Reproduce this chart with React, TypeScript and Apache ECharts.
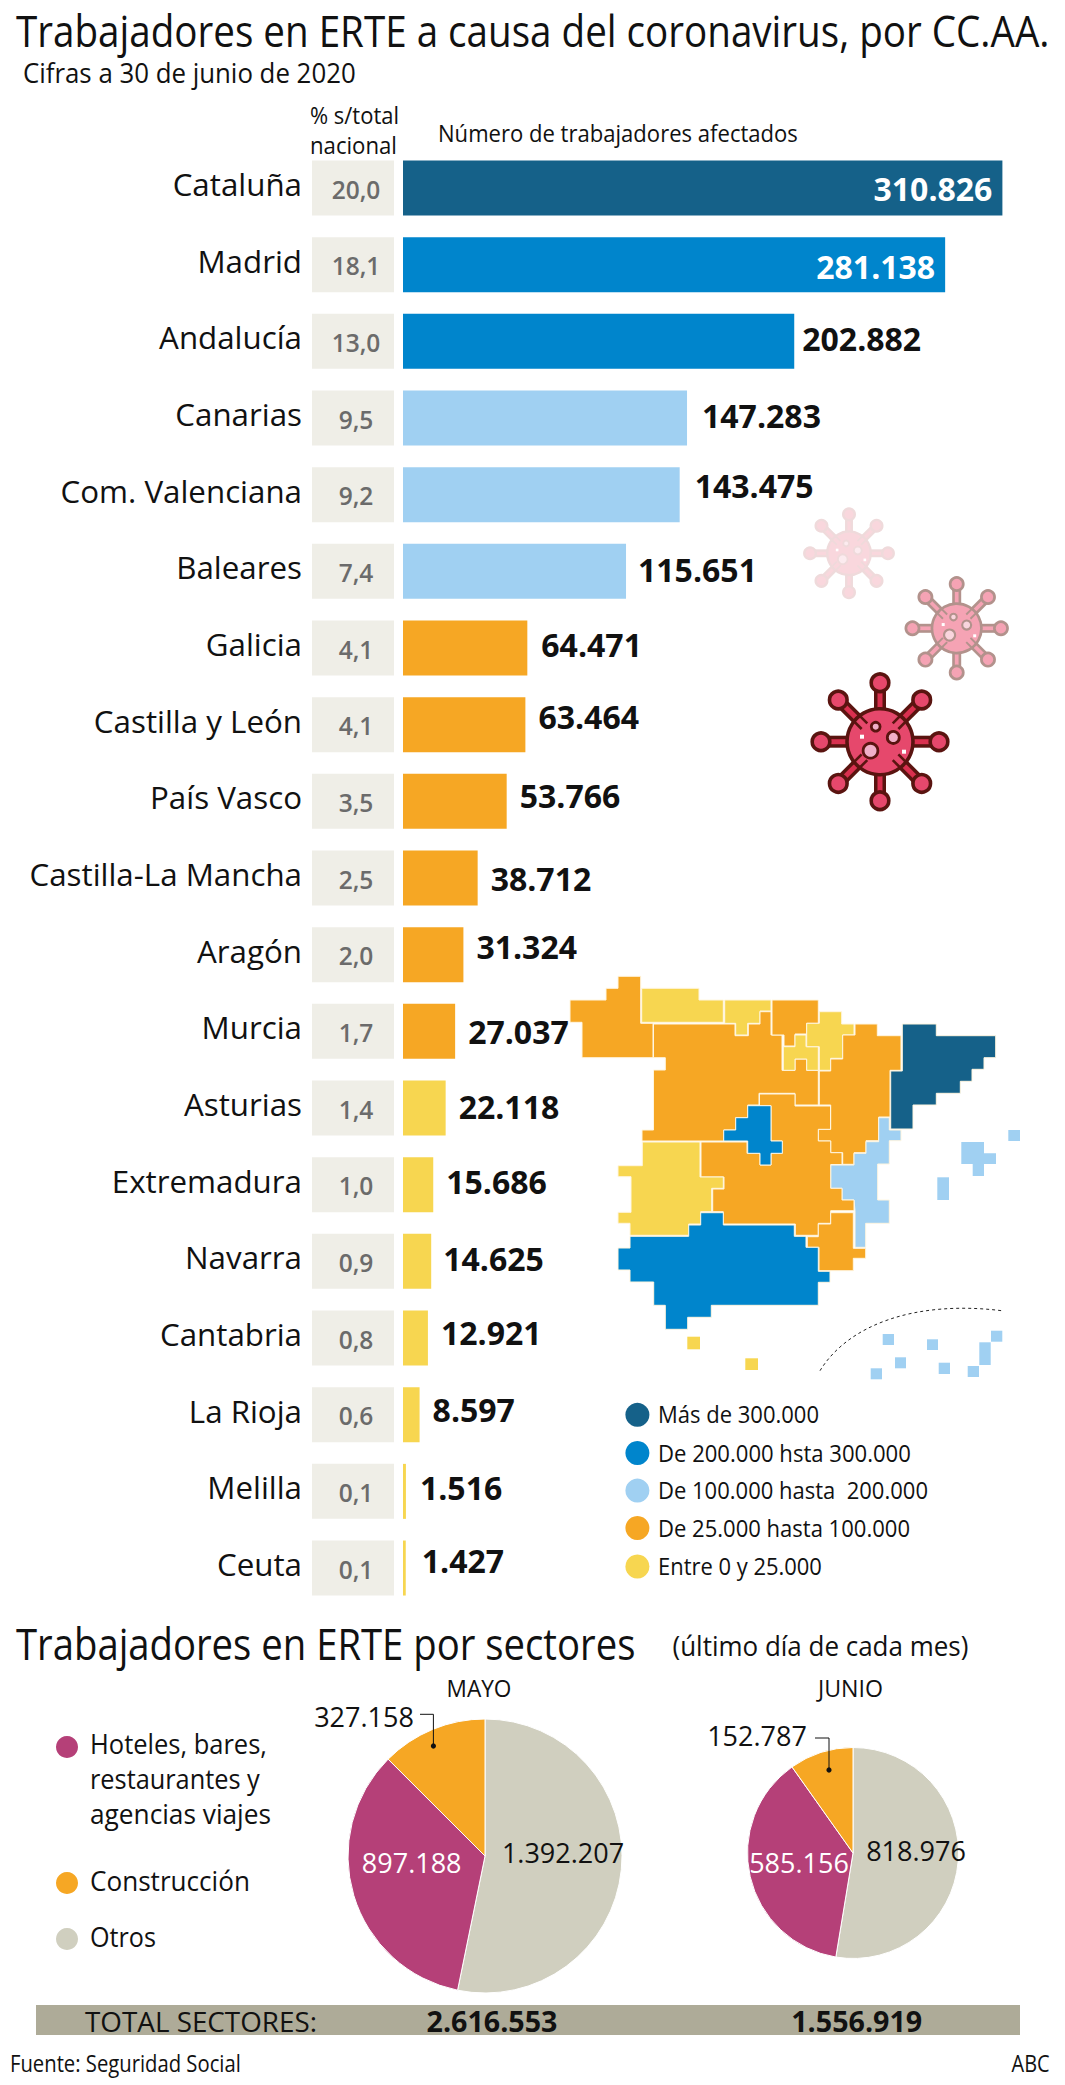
import React, { useEffect, useRef } from "react";
import * as echarts from "echarts";

// ---------- data ----------
const regions = ["Cataluña","Madrid","Andalucía","Canarias","Com. Valenciana","Baleares","Galicia","Castilla y León","País Vasco","Castilla-La Mancha","Aragón","Murcia","Asturias","Extremadura","Navarra","Cantabria","La Rioja","Melilla","Ceuta"];
const workers = [310826,281138,202882,147283,143475,115651,64471,63464,53766,38712,31324,27037,22118,15686,14625,12921,8597,1516,1427];
const shares = [20.0,18.1,13.0,9.5,9.2,7.4,4.1,4.1,3.5,2.5,2.0,1.7,1.4,1.0,0.9,0.8,0.6,0.1,0.1];
const legendLabels = ["Más de 300.000","De 200.000 hsta 300.000","De 100.000 hasta  200.000","De 25.000 hasta 100.000","Entre 0 y 25.000"];
const sectorNames = ["Otros","Hoteles, bares, restaurantes y agencias viajes","Construcción"];
const mayValues = [1392207,897188,327158];
const juneValues = [818976,585156,152787];
const totals = ["2.616.553","1.556.919"];

// ---------- style ----------
const FONT = "'Open Sans', sans-serif";
const DARK = "#156189", BLUE = "#0085CC", LIGHT = "#A0D0F2", ORANGE = "#F6A724", YELLOW = "#F7D650";
const bucketColors = [DARK, BLUE, LIGHT, ORANGE, YELLOW];
const sectorColors = ["#D0CFBF", "#B54078", ORANGE];
const colorFor = (v: number) => v > 300000 ? DARK : v > 200000 ? BLUE : v > 100000 ? LIGHT : v > 25000 ? ORANGE : YELLOW;
const fmt = (v: number) => String(v).replace(/\B(?=(\d{3})+$)/g, ".");

// hand placed value labels of the original, [dx, dy] from the bar end
const labelNudges: number[][] = [[0,0],[0,2],[8,-3],[15,-3],[15,-9],[12,-2],[14,-4],[13,-8],[13,-6],[13,0],[13,-8],[13,0],[13,-2],[13,-3],[12,-3],[13,-6],[13,-5],[14,-4],[16,-8]];
const legendWidths = [161, 253, 270, 252, 164];

const measure = (() => {
  const c = document.createElement("canvas").getContext("2d")!;
  return (s: string, font: string) => { c.font = font; return c.measureText(s).width; };
})();

function T(text: string, x: number, y: number, size: number, opt: any = {}) {
  const weight = opt.bold ? "bold " : "";
  const font = `${weight}${size}px ${FONT}`;
  const align = opt.align || "left";
  const sx = opt.w ? opt.w / measure(text, font) : 1;
  return { type: "text", x, y, scaleX: sx, silent: true, z: opt.z ?? 20,
    style: { text, x: 0, y: 0, font, fill: opt.fill || "#111", textAlign: align, textVerticalAlign: "middle", verticalAlign: "middle" } };
}

type P = number[][];
const poly = (points: P, fill: string) => ({ type: "polygon", silent: true, shape: { points }, style: { fill, stroke: "#FFF6E0", lineWidth: 1 } });
const box = (x0: number, y0: number, x1: number, y1: number, fill: string) => ({ type: "rect", silent: true, shape: { x: x0, y: y0, width: x1 - x0, height: y1 - y0 }, style: { fill } });
const dot = (cx: number, cy: number, r: number, fill: string) => ({ type: "circle", silent: true, shape: { cx, cy, r }, style: { fill } });

const mapShapes = [
  poly([[618,976.3],[640.7,976.3],[640.7,1023.3],[653,1023.3],[653,1057.7],[582,1057.7],[582,1022.3],[570,1022.3],[570,1000],[606,1000],[606,988.3],[618,988.3]], ORANGE),
  poly([[641.7,988.3],[699,988.3],[699,1000],[723.3,1000],[723.3,1022.3],[641.7,1022.3]], YELLOW),
  poly([[724.7,1000],[771,1000],[771,1011],[760,1011],[760,1023.3],[747.7,1023.3],[747.7,1035],[735.7,1035],[735.7,1023.3],[724.7,1023.3]], YELLOW),
  poly([[653.5,1024],[735,1024],[735,1035.7],[748.3,1035.7],[748.3,1024],[760,1024],[760,1011.7],[771,1011.7],[771,1035],[782,1035],[782,1070.3],[795,1070.3],[795,1059],[806.7,1059],[806.7,1070.3],[818.3,1070.3],[818.3,1105],[795,1105],[795,1093.3],[759,1093.3],[759,1105],[747.7,1105],[747.7,1117.7],[735.7,1117.7],[735.7,1130],[723.7,1130],[723.7,1141],[642,1141],[642,1130],[653.5,1130],[653.5,1070],[665.3,1070],[665.3,1057.7],[653.5,1057.7]], ORANGE),
  poly([[772,1000],[818.3,1000],[818.3,1023.3],[806.7,1023.3],[806.7,1034],[795,1034],[795,1046],[784,1046],[784,1035],[772,1035]], ORANGE),
  poly([[783.3,1046.7],[795,1046.7],[795,1035],[806,1035],[806,1046.7],[818.3,1046.7],[818.3,1070.3],[806.7,1070.3],[806.7,1059],[795,1059],[795,1070.3],[783.3,1070.3]], YELLOW),
  poly([[819.3,1011.7],[841.7,1011.7],[841.7,1024],[854,1024],[854,1035],[842.7,1035],[842.7,1058.3],[830.7,1058.3],[830.7,1070.3],[819.3,1070.3],[819.3,1046.7],[806.7,1046.7],[806.7,1023.3],[819.3,1023.3]], YELLOW),
  poly([[855,1024],[877.3,1024],[877.3,1035.7],[901,1035.7],[901,1070.3],[890,1070.3],[890,1117],[878.7,1117],[878.7,1140.7],[866,1140.7],[866,1152.7],[854,1152.7],[854,1164.3],[842.7,1164.3],[842.7,1152.7],[830.7,1152.7],[830.7,1141],[818.3,1141],[818.3,1129.3],[830.7,1129.3],[830.7,1105],[819.3,1105],[819.3,1071],[830.7,1071],[830.7,1059],[842.7,1059],[842.7,1035],[855,1035]], ORANGE),
  poly([[902.3,1024],[936.3,1024],[936.3,1035.7],[995.7,1035.7],[995.7,1057.7],[984,1057.7],[984,1069.3],[972,1069.3],[972,1081.3],[960.3,1081.3],[960.3,1093.3],[936.3,1093.3],[936.3,1105],[913,1105],[913,1129],[890.7,1129],[890.7,1071],[902.3,1071]], DARK),
  poly([[878.7,1117.7],[889.3,1117.7],[889.3,1130],[901,1130],[901,1140.7],[889.3,1140.7],[889.3,1164],[877.7,1164],[877.7,1200],[889.3,1200],[889.3,1223.3],[865.7,1223.3],[865.7,1247.3],[855,1247.3],[855,1210.7],[854,1200],[842,1200],[842,1188.3],[830.7,1188.3],[830.7,1165],[854,1165],[854,1153.3],[866,1153.3],[866,1141.7],[878.7,1141.7]], LIGHT),
  poly([[701,1142],[747,1142],[747,1153.3],[760,1153.3],[760,1165],[771,1165],[771,1153.3],[782.3,1153.3],[782.3,1141],[771,1141],[771,1105.7],[759.5,1105.7],[759.5,1094],[795,1094],[795,1106],[830.5,1106],[830.5,1129.3],[818.3,1129.3],[818.3,1141],[830.7,1141],[830.7,1152.7],[842,1152.7],[842,1164.5],[830.7,1164.5],[830.7,1188.3],[842,1188.3],[842,1200],[854,1200],[854,1210.7],[830.7,1210.7],[830.7,1223.3],[818.3,1223.3],[818.3,1235.3],[795.3,1235.3],[795.3,1224],[723.3,1224],[723.3,1211.7],[712.7,1211.7],[712.7,1189],[724,1189],[724,1177],[701,1177]], ORANGE),
  poly([[642.3,1142],[700,1142],[700,1177],[723.3,1177],[723.3,1188.3],[711.7,1188.3],[711.7,1211.7],[700.7,1211.7],[700.7,1224],[688.7,1224],[688.7,1235.3],[630,1235.3],[630,1223.3],[618,1223.3],[618,1212.3],[631,1212.3],[631,1176.7],[618,1176.7],[618,1165.7],[642.3,1165.7]], YELLOW),
  poly([[830.7,1212.7],[853.3,1212.7],[853.3,1248.3],[865.7,1248.3],[865.7,1258.3],[853.3,1258.3],[853.3,1270.7],[819,1270.7],[819,1247.3],[807.3,1247.3],[807.3,1236.7],[818.3,1236.7],[818.3,1224],[830.7,1224]], ORANGE),
  poly([[630,1236.3],[688.7,1236.3],[688.7,1225],[700.7,1225],[700.7,1212.7],[723.3,1212.7],[723.3,1225],[794.3,1225],[794.3,1236.3],[806,1236.3],[806,1247.3],[818.3,1247.3],[818.3,1271.3],[830,1271.3],[830,1282.3],[818.3,1282.3],[818.3,1305.3],[711.3,1305.3],[711.3,1317.3],[687.7,1317.3],[687.7,1329.3],[665.3,1329.3],[665.3,1305.3],[653.7,1305.3],[653.7,1282],[630,1282],[630,1270],[618,1270],[618,1248],[630,1248]], BLUE),
  poly([[747.7,1105.7],[771,1105.7],[771,1141],[782.3,1141],[782.3,1153.3],[771,1153.3],[771,1165],[760,1165],[760,1153.3],[747.7,1153.3],[747.7,1141],[723.7,1141],[723.7,1130],[735.7,1130],[735.7,1117.7],[747.7,1117.7]], BLUE),
  { ...poly([[961.3,1142],[984,1142],[984,1153.3],[996,1153.3],[996,1164],[984,1164],[984,1176],[972.7,1176],[972.7,1164],[961.3,1164]], LIGHT), style: { fill: LIGHT } },
  box(1008.3,1130,1020,1141,LIGHT), box(937.3,1177.3,949,1200,LIGHT),
  box(687.3,1336.7,700,1349.3,YELLOW), box(745.3,1358.3,758,1370,YELLOW),
  box(882.7,1334,894,1345,LIGHT), box(927,1339.3,938,1350,LIGHT), box(895,1357.3,906,1368.3,LIGHT), box(870.7,1368.3,882,1379.3,LIGHT),
  box(938.7,1362.7,950,1374,LIGHT), box(967.7,1366,979,1377,LIGHT), box(979.3,1342.3,990.7,1365,LIGHT), box(991,1330.7,1002.3,1341.7,LIGHT),
  { type: "bezierCurve", silent: true, shape: { x1: 820, y1: 1370.7, cpx1: 848, cpy1: 1325, cpx2: 915, cpy2: 1300, x2: 1001.7, y2: 1310.7 }, style: { stroke: "#222", lineWidth: 1, lineDash: [3, 3], fill: "none" } },
];

function virus(x: number, y: number, k: number, stroke: string, fill: string, inner: string, spot: string) {
  const children: any[] = [];
  for (let i = 0; i < 8; i++) {
    const a = (i * Math.PI) / 4, c = Math.cos(a), s = Math.sin(a);
    const from = i % 2 ? 26 : 32;
    const seg = (w: number, col: string) => ({ type: "line", shape: { x1: from * c, y1: from * s, x2: 59 * c, y2: 59 * s }, style: { stroke: col, lineWidth: w } });
    children.push(seg(12, stroke), seg(5, inner));
    children.push({ type: "circle", shape: { cx: 59 * c, cy: 59 * s, r: 8.8 }, style: { fill, stroke, lineWidth: 3.6 } });
  }
  children.push({ type: "circle", shape: { cx: 0, cy: 0, r: 33 }, style: { fill, stroke, lineWidth: 3.6 } });
  for (let i = 0; i < 8; i++) {
    if (i % 2 === 0) continue;
    const a = (i * Math.PI) / 4, c = Math.cos(a), s = Math.sin(a);
    children.push({ type: "line", shape: { x1: 22 * c + 4 * s, y1: 22 * s - 4 * c, x2: 35 * c + 4 * s, y2: 35 * s - 4 * c }, style: { stroke, lineWidth: 2.6 } });
    children.push({ type: "line", shape: { x1: 22 * c - 4 * s, y1: 22 * s + 4 * c, x2: 35 * c - 4 * s, y2: 35 * s + 4 * c }, style: { stroke, lineWidth: 2.6 } });
  }
  [[-9.5, 9, 7.4], [13.3, -4.3, 6], [-4.3, -15, 4.4]].forEach(([cx, cy, r]) =>
    children.push({ type: "circle", shape: { cx, cy, r }, style: { fill: spot, stroke, lineWidth: 2.8 } }));
  [[-20, -7], [22, 8]].forEach(([sx, sy]) => children.push({ type: "rect", shape: { x: sx, y: sy, width: 4, height: 4 }, style: { fill: "#FFF" } }));
  return { type: "group", x, y, scaleX: k, scaleY: k, silent: true, children };
}

const virusShapes = [
  virus(849, 553.3, 0.66, "#EFDADB", "#F9D7DD", "#F9D7DD", "#FCEBEF"),
  virus(956.7, 628.3, 0.75, "#B2928C", "#F5A3B4", "#F5A3B4", "#F9D5DD"),
  virus(880, 741.7, 1, "#5A1410", "#E6486C", "#D9304F", "#F0AFC8"),
];

const legendYs = [1414.8, 1453, 1490.6, 1528, 1566.5];

const leader = (pts: P, dotAt: number[]) => [
  { type: "polyline", silent: true, shape: { points: pts }, style: { stroke: "#111", lineWidth: 1, fill: "none" }, z: 15 },
  { ...dot(dotAt[0], dotAt[1], 2.6, "#111"), z: 15 },
];

const texts = [
  T("Trabajadores en ERTE a causa del coronavirus, por CC.AA.", 16, 30, 44, { w: 1034 }),
  T("Cifras a 30 de junio de 2020", 23, 73, 27, { w: 333 }),
  T("% s/total", 310, 115, 24, { w: 89 }),
  T("nacional", 310, 145, 24, { w: 87 }),
  T("Número de trabajadores afectados", 438, 133, 24, { w: 360 }),
  T("Trabajadores en ERTE por sectores", 16, 1643, 44, { w: 620 }),
  T("(último día de cada mes)", 672.5, 1645, 28, { w: 296 }),
  T("MAYO", 479, 1688, 24, { align: "center", w: 65 }),
  T("JUNIO", 850.5, 1688, 24, { align: "center", w: 65 }),
  T("Hoteles, bares,", 90, 1743, 28, { w: 177 }),
  T("restaurantes y", 90, 1778, 28, { w: 170 }),
  T("agencias viajes", 90, 1813, 28, { w: 181 }),
  T("Construcción", 90, 1880, 28, { w: 160 }),
  T("Otros", 90, 1936, 28, { w: 66 }),
  T("TOTAL SECTORES:", 85, 2020.7, 28, { w: 232 }),
  T(totals[0], 492, 2020.7, 28, { bold: true, align: "center", w: 131 }),
  T(totals[1], 856.7, 2020.7, 28, { bold: true, align: "center", w: 131 }),
  T("Fuente: Seguridad Social", 10, 2062.7, 23, { w: 231 }),
  T("ABC", 1049.6, 2062.7, 23, { align: "right", w: 38 }),
  ...legendLabels.map((s, i) => T(s, 658, legendYs[i], 23, { w: legendWidths[i] })),
];

const chips = [
  ...bucketColors.map((c, i) => dot(637.4, legendYs[i], 12, c)),
  dot(67, 1747, 11, sectorColors[1]),
  dot(67, 1883, 11, sectorColors[2]),
  dot(67, 1939, 11, sectorColors[0]),
];

const pieLabelAt = (series: number[][]) => (p: any) => ({ x: series[p.dataIndex][0], y: series[p.dataIndex][1], align: "center", verticalAlign: "middle" });

function pie(name: string, center: number[], r: number, values: number[], spots: number[][]) {
  return {
    type: "pie", name, center, radius: r, startAngle: 90, clockwise: true, silent: true,
    labelLine: { show: false },
    itemStyle: { borderColor: "#fff", borderWidth: 1 },
    labelLayout: pieLabelAt(spots),
    data: values.map((v, i) => ({
      name: sectorNames[i], value: v, itemStyle: { color: sectorColors[i] },
      label: { show: true, position: "inside", formatter: fmt(v), fontFamily: FONT, fontSize: 27, color: i === 1 ? "#fff" : "#111" },
    })),
  };
}

export default function App() {
  const ref = useRef<HTMLDivElement>(null);
  useEffect(() => {
    document.body.style.margin = "0";
    const chart = echarts.init(ref.current!, undefined, { renderer: "svg" });
    chart.setOption({
      animation: false,
      backgroundColor: "#fff",
      grid: [
        { left: 403, top: 149.67, width: 599.4, height: 1456.7 },
        { left: 312, top: 149.67, width: 82, height: 1456.7 },
        { left: 403, top: 145.67, width: 599.4, height: 1456.7 }, // carries the region names, a little above the bars
      ],
      xAxis: [
        { gridIndex: 0, type: "value", min: 0, max: 310826, show: false },
        { gridIndex: 1, type: "value", min: 0, max: 25, show: false },
        { gridIndex: 2, type: "value", min: 0, max: 310826, show: false },
      ],
      yAxis: [
        { gridIndex: 0, type: "category", inverse: true, data: regions, show: false },
        { gridIndex: 1, type: "category", inverse: true, data: regions, show: false },
        { gridIndex: 2, type: "category", inverse: true, data: regions,
          axisLine: { show: false }, axisTick: { show: false },
          axisLabel: { margin: 101, fontFamily: FONT, fontSize: 31.3, color: "#111", align: "right" } },
      ],
      series: [
        {
          type: "custom", xAxisIndex: 1, yAxisIndex: 1, silent: true,
          encode: { x: 0, y: 1 },
          data: shares.map((s, i) => [s, i]),
          renderItem: (params: any, api: any) => {
            const cs = params.coordSys;
            const cy = api.coord([0, api.value(1)])[1];
            return {
              type: "group",
              children: [
                { type: "rect", shape: { x: cs.x, y: cy - 27.5, width: cs.width, height: 55 }, style: { fill: "#EFEEE7" } },
                { type: "text", style: { text: api.value(0).toFixed(1).replace(".", ","), x: cs.x + cs.width / 2 + 3, y: cy + 1, font: `600 24.5px ${FONT}`, fill: "#6b6b6b", textAlign: "center", textVerticalAlign: "middle", verticalAlign: "middle" } },
              ],
            };
          },
        },
        {
          type: "bar", xAxisIndex: 0, yAxisIndex: 0, barWidth: 55, silent: true,
          data: workers.map((v, i) => ({
            value: v,
            itemStyle: { color: colorFor(v) },
            label: i < 2
              ? { show: true, position: "insideRight", distance: 10, offset: labelNudges[i], color: "#fff", formatter: fmt(v), fontFamily: FONT, fontWeight: "bold", fontSize: 32 }
              : { show: true, position: "right", distance: 0, offset: labelNudges[i], color: "#111", formatter: fmt(v), fontFamily: FONT, fontWeight: "bold", fontSize: 32 },
          })),
        },
        pie("MAYO", [485, 1856], 137, mayValues, [[563, 1852], [411.7, 1862.7], [364, 1716]]),
        pie("JUNIO", [853, 1853], 105.5, juneValues, [[916, 1850], [799, 1862.7], [757, 1735]]),
      ],
      graphic: {
        elements: [
          ...mapShapes,
          ...virusShapes,
          box(36, 2005, 1020, 2035, "#AEAB98"),
          ...chips,
          ...leader([[420, 1714.3], [433.4, 1714.3], [433.4, 1746]], [433.4, 1746]),
          ...leader([[815, 1738], [829, 1738], [829, 1770]], [829, 1770]),
          ...texts,
        ],
      },
    });
    return () => chart.dispose();
  }, []);
  return <div ref={ref} style={{ width: 1065, height: 2085 }} />;
}
